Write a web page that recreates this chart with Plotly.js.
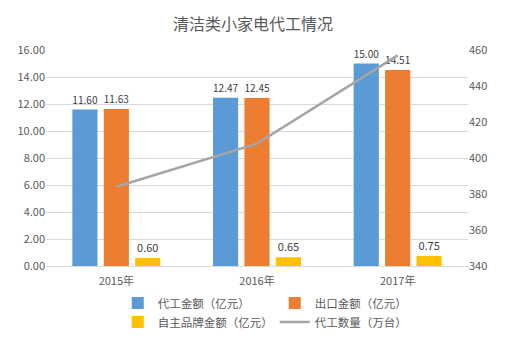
<!DOCTYPE html>
<html>
<head>
<meta charset="utf-8">
<script src="https://cdn.plot.ly/plotly-3.0.1.min.js"></script>
<style>
  body { margin: 0; background: #fff; }
  #plot { width: 506px; height: 347px; }
</style>
</head>
<body>
<div id="plot"></div>
<script>
// 年份
var years = ["2015年", "2016年", "2017年"];
// 金额（亿元）
var oemValue = [11.60, 12.47, 15.00];
var exportValue = [11.63, 12.45, 14.51];
var brandValue = [0.60, 0.65, 0.75];
// 代工数量（万台）
var oemQty = [384, 408, 457];

var font = "Noto Sans CJK SC, Microsoft YaHei, sans-serif";

function barTrace(name, y, color) {
  return {
    x: years, y: y, name: name, type: "bar",
    marker: { color: color },
    texttemplate: "%{y:.2f}",
    textposition: "outside",
    cliponaxis: false,
    textfont: { size: 11, color: "#404040" },
    hoverinfo: "y"
  };
}

var data = [
  barTrace("代工金额（亿元）", oemValue, "#5b9bd5"),
  barTrace("出口金额（亿元）", exportValue, "#ed7d31"),
  barTrace("自主品牌金额（亿元）", brandValue, "#ffc000"),
  {
    x: years, y: oemQty, name: "代工数量（万台）",
    type: "scatter", mode: "lines", yaxis: "y2",
    line: { color: "#a5a5a5", width: 2.5 }
  }
];

var layout = {
  width: 506, height: 347,
  margin: { l: 46, r: 38, t: 50, b: 81 },
  paper_bgcolor: "#fff", plot_bgcolor: "#fff",
  font: { family: font, size: 11, color: "#595959" },
  title: {
    text: "清洁类小家电代工情况",
    font: { size: 16, color: "#595959" },
    x: 0.5, y: 0.93, yanchor: "middle"
  },
  barmode: "group",
  bargap: 0.33,
  bargroupgap: 0.2,
  showlegend: true,
  xaxis: {
    showline: true, linecolor: "#d9d9d9",
    ticks: "", ticklabelstandoff: 5,
    tickfont: { size: 11, color: "#595959" }
  },
  yaxis: {
    range: [0, 16], dtick: 2, tickformat: ".2f",
    gridcolor: "#d9d9d9", zeroline: false,
    tickfont: { size: 11, color: "#595959" }
  },
  yaxis2: {
    range: [340, 460], dtick: 20, overlaying: "y", side: "right",
    showgrid: false, zeroline: false,
    tickfont: { size: 11, color: "#595959" }
  },
  legend: {
    orientation: "h", x: 0.17, xanchor: "left",
    yref: "container", y: 0.03, yanchor: "bottom",
    entrywidth: 112, entrywidthmode: "pixels",
    font: { size: 11.5, color: "#595959" },
    tracegroupgap: 0
  }
};

Plotly.newPlot("plot", data, layout, { displayModeBar: false });
</script>
</body>
</html>
